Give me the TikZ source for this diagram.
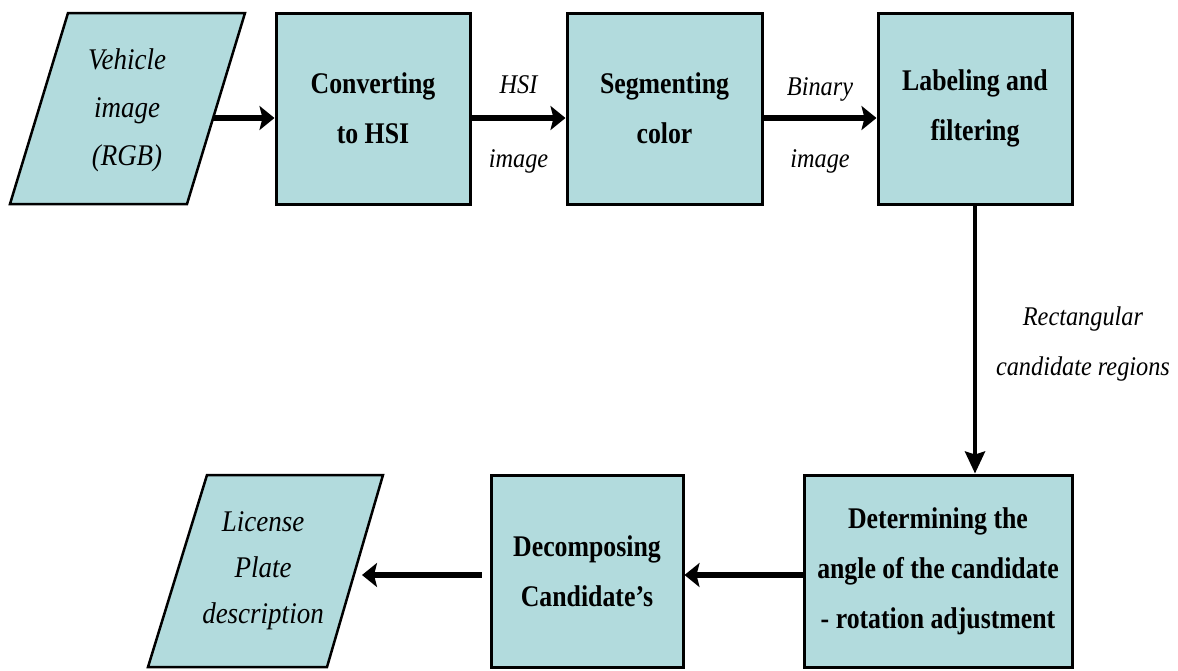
\documentclass[tikz,border=0pt]{standalone}
\usepackage{fontspec}
\setmainfont{Liberation Serif}
\newfontfamily\condserif{Liberation Serif}[FakeStretch=0.86,Ligatures=TeX]
\newfontfamily\itserif{Liberation Serif}[FakeStretch=0.9,Ligatures=TeX]
\usetikzlibrary{arrows.meta,calc}
\definecolor{boxfill}{RGB}{178,219,221}
\begin{document}
\begin{tikzpicture}[x=1pt,y=-1pt,
  procbox/.style={draw=black, line width=3pt, fill=boxfill, rectangle, inner sep=0pt,
    align=center, font=\condserif\bfseries\fontsize{30}{50}\selectfont},
  iolabel/.style={align=center, inner sep=0pt, font=\itserif\itshape\fontsize{30}{48}\selectfont},
  flowlabel/.style={inner sep=0pt, align=center, font=\itserif\itshape\fontsize{27}{50}\selectfont},
  thickarrow/.style={line width=6.5pt, -{Stealth[length=15pt,width=24pt,inset=3pt]}},
  thinarrow/.style={line width=4pt, -{Stealth[length=22pt,width=20pt,inset=3pt]}},
  ioshape/.style={draw=black, line width=2.5pt, fill=boxfill, line join=miter}
]
\useasboundingbox (0,0) rectangle (1178,670);

% input parallelogram
\path[ioshape] (68,13) -- (245,13) -- (187,204) -- (10,204) -- cycle;
\node[iolabel] (veh) at (127,110) {Vehicle\\image\\(RGB)};
\coordinate (vehout) at (213,118);

% top row boxes
\node[procbox, minimum width=194pt, minimum height=191pt] (conv) at (373,108.5) {Converting\\to HSI};
\node[procbox, minimum width=195pt, minimum height=191pt] (seg) at (664.5,108.5) {Segmenting\\color};
\node[procbox, minimum width=194pt, minimum height=191pt] (lab) at (975,108.5) {Labeling and\\filtering};

% bottom row boxes
\node[procbox, minimum width=268pt, minimum height=192pt] (det) at (938,571) {Determining the\\angle of the candidate\\- rotation adjustment};
\node[procbox, minimum width=192pt, minimum height=192pt] (dec) at (587,571) {Decomposing\\Candidate’s};

% output parallelogram
\path[ioshape] (207,475) -- (383,475) -- (327,667) -- (148,667) -- cycle;
\node[iolabel, font=\itserif\itshape\fontsize{30}{46}\selectfont] (lic) at (263,571) {License\\Plate\\description};
\coordinate (licin) at (354,575);

% connectors
\draw[thickarrow] (vehout) -- (vehout -| conv.west);
\draw[thickarrow] ([yshift=-9.5pt]conv.east) -- ([yshift=-9.5pt]seg.west)
  node[flowlabel, midway, anchor=base, yshift=25pt] {HSI}
  node[flowlabel, midway, anchor=base, yshift=-49pt] {image};
\draw[thickarrow] ([yshift=-9.5pt]seg.east) -- ([yshift=-9.5pt]lab.west)
  node[flowlabel, midway, anchor=base, yshift=23pt] {Binary}
  node[flowlabel, midway, anchor=base, yshift=-49pt] {image};
\draw[thinarrow] (lab.south) -- (lab.south |- det.north)
  node[flowlabel, midway, anchor=west, xshift=19pt, yshift=-4pt] {Rectangular\\candidate regions};
\draw[thickarrow] ([yshift=-4pt]det.west) -- ([yshift=-4pt]dec.east);
\draw[thickarrow, shorten <=8pt, shorten >=8pt] ([yshift=-4pt]dec.west) -- (licin);
\end{tikzpicture}
\end{document}
